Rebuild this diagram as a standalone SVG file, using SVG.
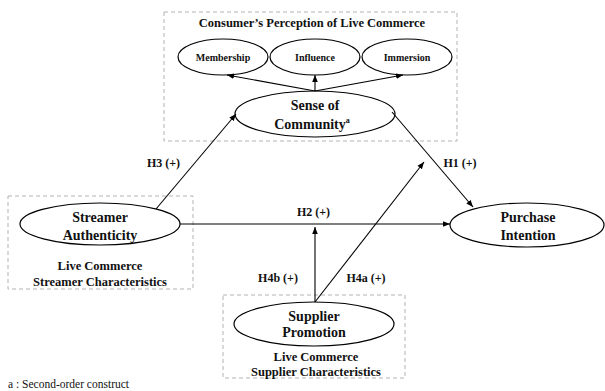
<svg xmlns="http://www.w3.org/2000/svg" width="605" height="391" viewBox="0 0 605 391">
<style>
.box{fill:none;stroke:#b3b3b3;stroke-width:1;stroke-dasharray:4,3}
.el{fill:#fff;stroke:#000;stroke-width:1.2}
.t{font-family:"Liberation Serif","Times New Roman",serif;font-weight:bold;fill:#111;text-anchor:middle}
.big{font-size:14px}
.mid{font-size:12.5px}
.sm{font-size:10px}
.lab{font-size:12px}
.conn line{stroke:#000;stroke-width:1.1}
</style>
<defs>
<marker id="ah" viewBox="0 0 10 10" refX="10" refY="5" markerWidth="7" markerHeight="7" markerUnits="userSpaceOnUse" orient="auto">
<path d="M0,1 L10,5 L0,9 Z" fill="#000"/>
</marker>
</defs>
<rect width="605" height="391" fill="#fff"/>

<g id="perception-box">
<rect class="box" x="164" y="12" width="293" height="129"/>
<text class="t mid" x="312" y="27">Consumer’s Perception of Live Commerce</text>
</g>
<g id="membership">
<ellipse class="el" cx="223" cy="57" rx="45" ry="18"/>
<text class="t sm" x="223" y="60.5">Membership</text>
</g>
<g id="influence">
<ellipse class="el" cx="315" cy="57" rx="45" ry="18"/>
<text class="t sm" x="315" y="60.5">Influence</text>
</g>
<g id="immersion">
<ellipse class="el" cx="407" cy="57" rx="45" ry="18"/>
<text class="t sm" x="407" y="60.5">Immersion</text>
</g>
<g id="sense">
<ellipse class="el" cx="315" cy="114" rx="80" ry="23"/>
<text class="t big" x="315" y="110">Sense of</text>
<text class="t big" x="312" y="129">Community<tspan font-size="8" dy="-6">a</tspan></text>
</g>

<g id="streamer">
<rect class="box" x="8" y="196" width="185" height="93"/>
<ellipse class="el" cx="100" cy="224" rx="80" ry="21"/>
<text class="t big" x="100" y="221.5">Streamer</text>
<text class="t big" x="100" y="239.5">Authenticity</text>
<text class="t mid" x="100" y="269.5">Live Commerce</text>
<text class="t mid" x="100" y="285.5">Streamer Characteristics</text>
</g>

<g id="purchase">
<ellipse class="el" cx="527" cy="225" rx="77" ry="22"/>
<text class="t big" x="528" y="221.5">Purchase</text>
<text class="t big" x="528" y="239.5">Intention</text>
</g>

<g id="supplier">
<rect class="box" x="223" y="295" width="182" height="83"/>
<ellipse class="el" cx="314" cy="324" rx="80" ry="22"/>
<text class="t big" x="314" y="320.5">Supplier</text>
<text class="t big" x="314" y="336.5">Promotion</text>
<text class="t mid" x="316" y="360.5">Live Commerce</text>
<text class="t mid" x="316" y="375.5">Supplier Characteristics</text>
</g>

<g class="conn" id="connectors">
<line x1="315" y1="91" x2="227" y2="75" marker-end="url(#ah)"/>
<line x1="315" y1="91" x2="315" y2="75" marker-end="url(#ah)"/>
<line x1="315" y1="91" x2="403" y2="75" marker-end="url(#ah)"/>
<line x1="156" y1="209" x2="236" y2="114" marker-end="url(#ah)"/>
<line x1="392" y1="112" x2="473" y2="207" marker-end="url(#ah)"/>
<line x1="180" y1="224" x2="450" y2="224" marker-end="url(#ah)"/>
<line x1="315" y1="302" x2="315" y2="227" marker-end="url(#ah)"/>
<line x1="315" y1="302" x2="424" y2="162" marker-end="url(#ah)"/>
</g>

<g id="labels">
<text class="t lab" x="163.5" y="167">H3 (+)</text>
<text class="t lab" x="460" y="167">H1 (+)</text>
<text class="t lab" x="313.5" y="216">H2 (+)</text>
<text class="t lab" x="278" y="282">H4b (+)</text>
<text class="t lab" x="366" y="282">H4a (+)</text>
</g>

<text x="8" y="388" font-family="'Liberation Serif','Times New Roman',serif" font-size="11.5" fill="#111">a : Second-order construct</text>
</svg>
